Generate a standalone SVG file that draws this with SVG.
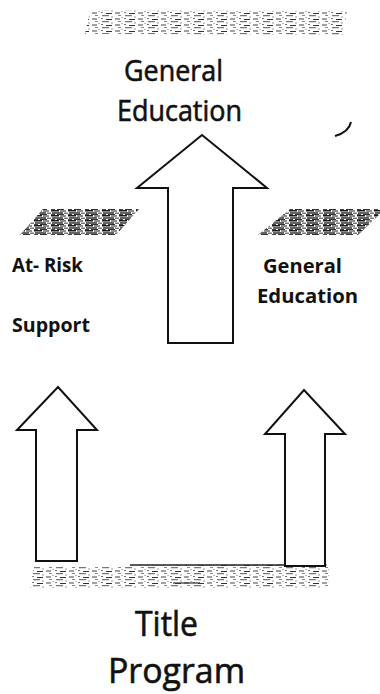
<svg xmlns="http://www.w3.org/2000/svg" width="380" height="694" viewBox="0 0 380 694">
  <style>
    .lbl { font-family: "Open Sans", "Liberation Sans", sans-serif; fill: #111; }
    .big { font-size: 29px; stroke: #111; stroke-width: 0.6; }
    .huge { font-size: 34px; stroke: #111; stroke-width: 0.6; }
    .side { font-size: 19px; font-weight: 700; }
    .block { fill: #fff; stroke: #111; stroke-width: 2; stroke-linejoin: miter; }
  </style>
  <defs>
    <!-- dense streaky grain for the side bands -->
    <pattern id="grainDense" width="17" height="5" patternUnits="userSpaceOnUse">
      <rect x="0" y="0" width="8" height="1.5" fill="#1a1a1a"/>
      <rect x="9" y="0.4" width="6" height="1.2" fill="#444"/>
      <rect x="1" y="2.3" width="11" height="1.4" fill="#222"/>
      <rect x="13" y="2.6" width="4" height="1.2" fill="#555"/>
      <rect x="0" y="4" width="4" height="1" fill="#444"/>
      <rect x="6" y="4" width="7" height="1" fill="#333"/>
    </pattern>
    <!-- sparse speckle for the top and bottom bands -->
    <pattern id="grainSparse" width="23" height="6" patternUnits="userSpaceOnUse">
      <rect x="0" y="0.5" width="5" height="1" fill="#444"/>
      <rect x="9" y="0" width="2" height="1" fill="#777"/>
      <rect x="14" y="1" width="6" height="1" fill="#333"/>
      <rect x="3" y="3" width="3" height="1" fill="#888"/>
      <rect x="10" y="3.2" width="7" height="1" fill="#555"/>
      <rect x="19" y="4.5" width="2" height="1" fill="#999"/>
      <rect x="6" y="5" width="2" height="0.8" fill="#aaa"/>
    </pattern>
  </defs>

  <rect width="380" height="694" fill="#fff"/>

  <!-- grey bands -->
  <g id="bands">
    <polygon points="90,10 347,11 343,35 85,34" fill="url(#grainSparse)"/>
    <polygon points="43,209 139,209 116,235 20,235" fill="url(#grainDense)"/>
    <polygon points="290,209 380,209 380,214 358,235 258,235" fill="url(#grainDense)"/>
    <polygon points="34,567 330,564 328,588 30,588" fill="url(#grainSparse)"/>
    <line x1="130" y1="565" x2="285" y2="565" stroke="#222" stroke-width="1.5"/>
    <line x1="173" y1="583" x2="200" y2="583" stroke="#333" stroke-width="1.2"/>
  </g>

  <!-- small stray stroke -->
  <path d="M351,122 Q349,132 335,136" fill="none" stroke="#111" stroke-width="2"/>

  <!-- block arrows -->
  <g id="connectors">
    <polygon id="arrow-center" class="block" points="168,343 168,188 137,188 202,135 267,188 233,188 233,343"/>
    <polygon id="arrow-left" class="block" points="36,561 36,430 17,430 58,387 97,430 77,430 77,561"/>
    <polygon id="arrow-right" class="block" points="285,566 285,434 265,434 304,390 345,434 325,434 325,566"/>
  </g>

  <g id="general-education-top">
    <text class="lbl big" x="124" y="81" textLength="99" lengthAdjust="spacingAndGlyphs">General</text>
    <text class="lbl big" x="117" y="121" textLength="125" lengthAdjust="spacingAndGlyphs">Education</text>
  </g>

  <g id="at-risk-support">
    <text class="lbl side" x="12" y="272" textLength="71" lengthAdjust="spacingAndGlyphs">At- Risk</text>
    <text class="lbl side" x="12" y="332" textLength="78" lengthAdjust="spacingAndGlyphs">Support</text>
  </g>

  <g id="general-education-side">
    <text class="lbl side" x="263" y="273" textLength="79" lengthAdjust="spacingAndGlyphs">General</text>
    <text class="lbl side" x="257" y="303" textLength="101" lengthAdjust="spacingAndGlyphs">Education</text>
  </g>

  <g id="title-program">
    <text class="lbl huge" x="135" y="636" textLength="63" lengthAdjust="spacingAndGlyphs">Title</text>
    <text class="lbl huge" x="108" y="683" textLength="137" lengthAdjust="spacingAndGlyphs">Program</text>
  </g>
</svg>
